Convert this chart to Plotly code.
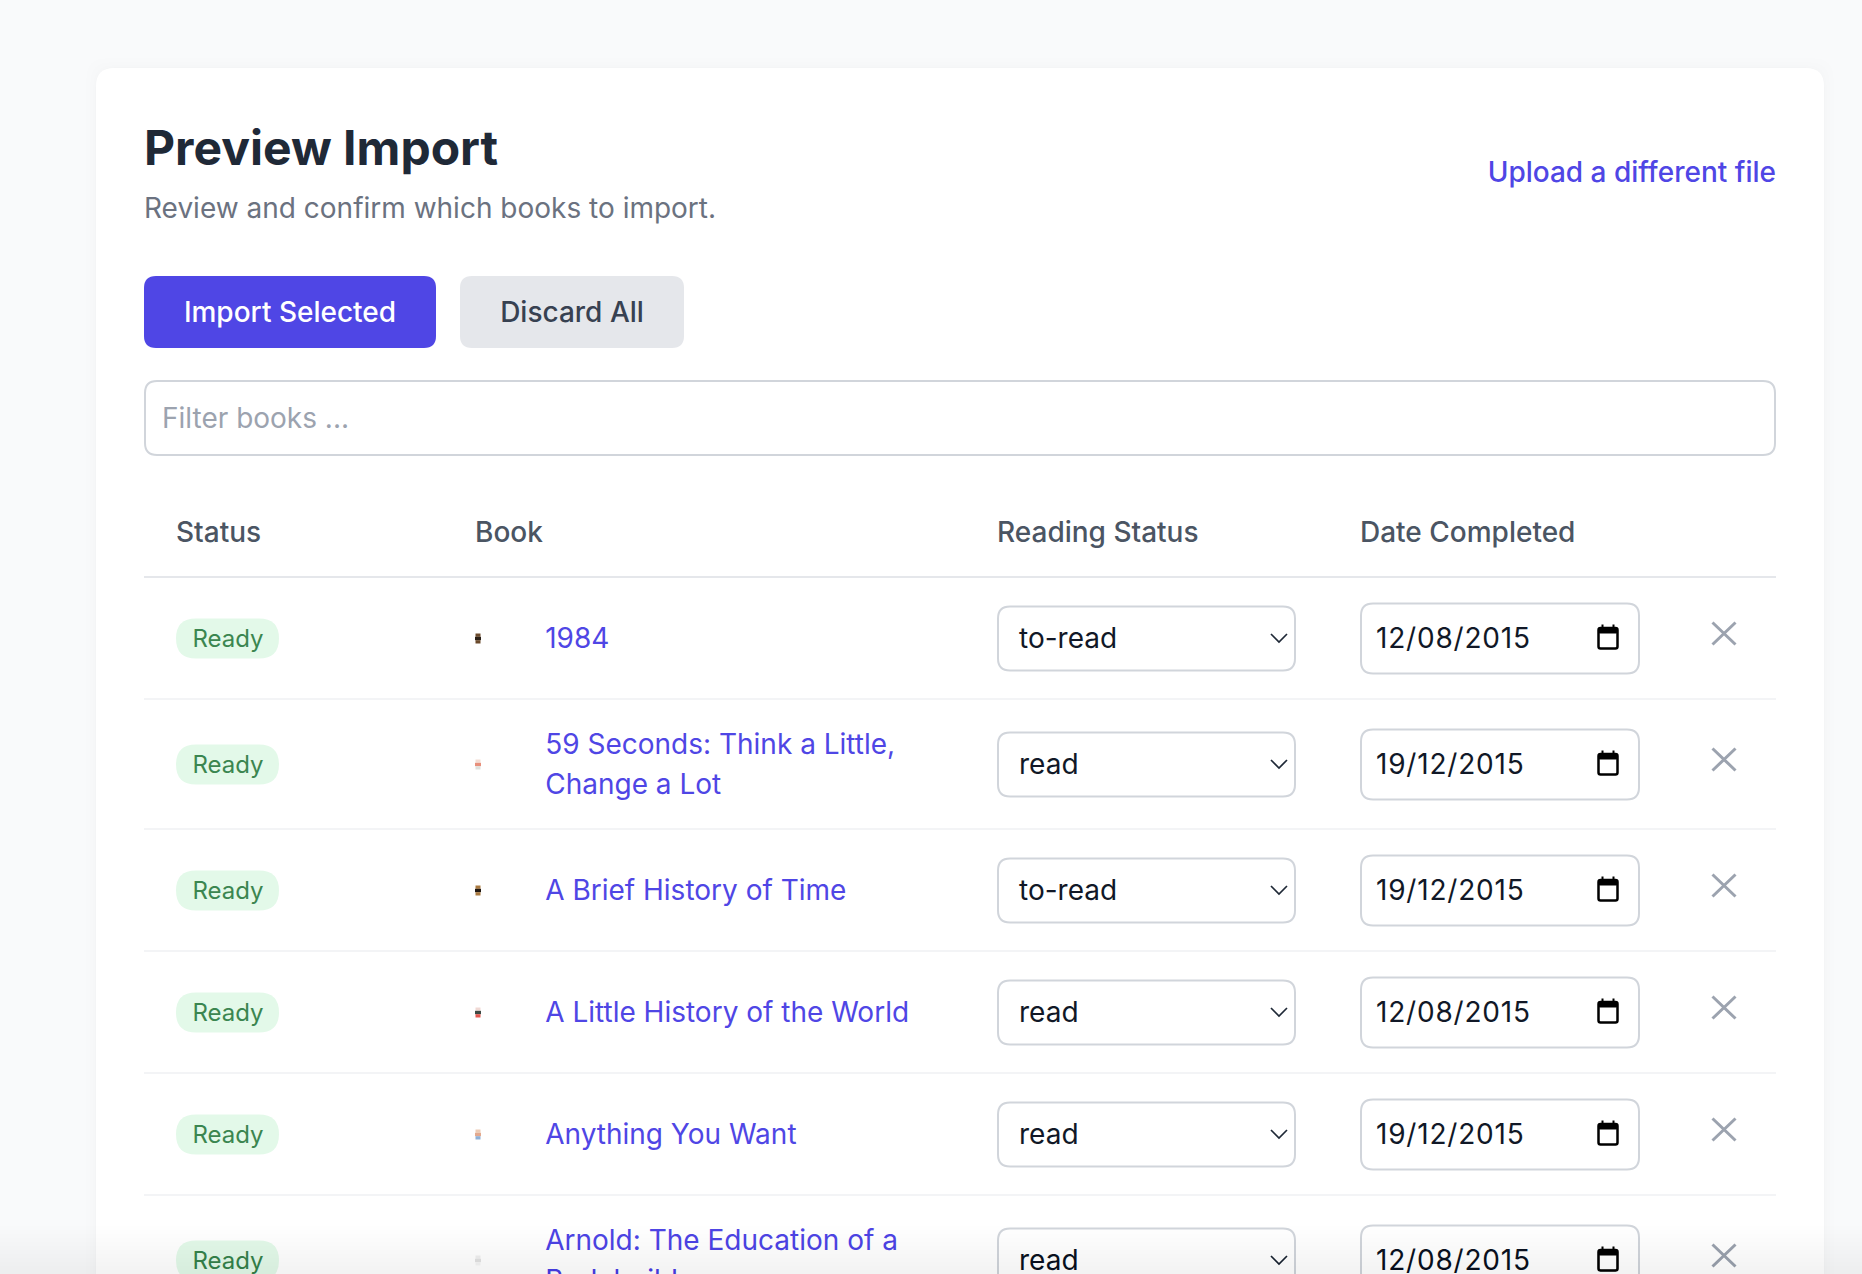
import plotly.graph_objects as go

# Content
page_title = "Preview Import"
page_subtitle = "Review and confirm which books to import."
upload_link = "Upload a different file"
button_labels = ["Import Selected", "Discard All"]
filter_placeholder = "Filter books ..."
header_labels = ["Status", "Book", "Reading Status", "Date Completed"]
book_titles = [
    "1984",
    "59 Seconds: Think a Little,<br>Change a Lot",
    "A Brief History of Time",
    "A Little History of the World",
    "Anything You Want",
    "Arnold: The Education of a<br>Bodybuilder",
]
import_status = ["Ready", "Ready", "Ready", "Ready", "Ready", "Ready"]
reading_status = ["to-read", "read", "to-read", "read", "read", "read"]
dates_completed = ["12/08/2015", "19/12/2015", "19/12/2015", "12/08/2015", "19/12/2015", "12/08/2015"]
cover_stripes = [
    ["#6b4a2c", "#2a1f16", "#6b4a2c"],
    ["#f3dcd3", "#e8907c", "#dfe0dc"],
    ["#a9793f", "#1e1712", "#a9793f"],
    ["#f0d9d4", "#3c4a44", "#e3574f"],
    ["#eccbb4", "#e3a98e", "#8fb0d6"],
    ["#efefef", "#e2e2e2", "#f4f4f4"],
]

WIDTH, HEIGHT = 1862, 1274
FONT = "Inter"
INDIGO = "#4f46e5"
BORDER = "#d1d5db"

# Column edges, in page pixels
LEFT, RIGHT = 144, 1776
COL_STATUS, COL_COVER, COL_TITLE, COL_READING, COL_DATE = 176, 475, 545.2, 997, 1360
ROWS_TOP = 577
ONE_LINE_ROW, TWO_LINE_ROW = 122, 130
TEXT_DROP = 2.5  # Inter sits a little high when centred by plotly


def rounded(x0, y0, x1, y1, r):
    """SVG path of a rounded rectangle"""
    return (
        f"M{x0 + r},{y0} L{x1 - r},{y0} Q{x1},{y0} {x1},{y0 + r} "
        f"L{x1},{y1 - r} Q{x1},{y1} {x1 - r},{y1} "
        f"L{x0 + r},{y1} Q{x0},{y1} {x0},{y1 - r} "
        f"L{x0},{y0 + r} Q{x0},{y0} {x0 + r},{y0} Z"
    )


fig = go.Figure()
shapes = []


def add_box(x0, y0, x1, y1, r, fill, line=None, width=2):
    shapes.append(dict(
        type="path", path=rounded(x0, y0, x1, y1, r), xref="x", yref="y",
        fillcolor=fill, line=dict(color=line or "rgba(0,0,0,0)", width=width if line else 0),
        layer="below",
    ))


def add_stroke(path, color, width):
    shapes.append(dict(
        type="path", path=path, xref="x", yref="y",
        line=dict(color=color, width=width), layer="below",
    ))


def add_text(xs, ys, labels, size, color, weight=400, position="middle right"):
    fig.add_trace(go.Scatter(
        x=xs, y=ys, text=labels, mode="text", textposition=position,
        textfont=dict(family=FONT, size=size, color=color, weight=weight),
        hoverinfo="skip", showlegend=False,
    ))


# Card with a soft shadow
for spread, alpha in [(10, 0.003), (6, 0.004), (3, 0.005), (1, 0.008)]:
    add_box(96 - spread, 68 - spread, 1824 + spread, 1400, 20, f"rgba(0,0,0,{alpha})")
add_box(96, 68, 1824, 1400, 18, "#ffffff")

# Heading block
add_text([144], [153], [page_title], 48, "#1f2937", 700)
add_text([144], [211], [page_subtitle], 28, "#6b7280")
add_text([1776], [175], [upload_link], 28, INDIGO, 500, "middle left")

# Buttons and filter
add_box(144, 276, 436, 348, 12, INDIGO)
add_box(460, 276, 684, 348, 12, "#e5e7eb")
add_text([290], [315], [button_labels[0]], 28, "#ffffff", 500, "middle center")
add_text([572], [315], [button_labels[1]], 28, "#374151", 500, "middle center")
add_box(145, 381, 1775, 455, 12, "#ffffff", BORDER, 2)
add_text([162], [420.5], [filter_placeholder], 28, "#9ca3af")

# Table header
add_text([COL_STATUS, COL_COVER, COL_READING, COL_DATE], [534.5] * 4, header_labels, 28, "#4b5563", 500)
shapes.append(dict(type="line", x0=LEFT, x1=RIGHT, y0=ROWS_TOP, y1=ROWS_TOP, xref="x", yref="y",
                   line=dict(color="#e5e7eb", width=2), layer="below"))

# Table rows
row_top = ROWS_TOP
centers = []
title_x, title_y, title_text = [], [], []
for title, stripes in zip(book_titles, cover_stripes):
    lines = title.split("<br>")
    row_h = TWO_LINE_ROW if len(lines) > 1 else ONE_LINE_ROW
    cy = row_top + row_h / 2 + 0.5
    centers.append(cy)
    row_top += row_h
    if row_top < HEIGHT:
        shapes.append(dict(type="line", x0=LEFT, x1=RIGHT, y0=row_top, y1=row_top, xref="x", yref="y",
                           line=dict(color="#f3f4f6", width=2), layer="below"))

    # Badge
    add_box(176, cy - 20, 279, cy + 20, 20, "#e3f9e9")

    # Tiny cover image, ends drawn a touch narrower so it reads as an oval
    for i, colour in enumerate(stripes):
        inset = 0 if i == 1 else 0.5
        shapes.append(dict(type="rect", x0=COL_COVER + inset, x1=COL_COVER + 6 - inset,
                           y0=cy - 5 + i * 10 / 3, y1=cy - 5 + (i + 1) * 10 / 3, xref="x", yref="y",
                           fillcolor=colour, line=dict(width=0), layer="below"))

    # Title lines
    for n, line in enumerate(lines):
        title_x.append(COL_TITLE)
        title_y.append(cy + TEXT_DROP + (n - (len(lines) - 1) / 2) * 40)
        title_text.append(line)

    # Select box and chevron
    add_box(998, cy - 32, 1295, cy + 32, 12, "#ffffff", BORDER, 2)
    add_stroke(f"M1271,{cy - 4.5} L1279,{cy + 3.5} L1287,{cy - 4.5}", "#1f2937", 1.7)

    # Date input and calendar icon
    add_box(1361, cy - 35, 1639, cy + 35, 12, "#ffffff", BORDER, 2)
    add_box(1598.5, cy - 10.5, 1617.5, cy + 10, 2, "#ffffff", "#000000", 2.5)
    add_box(1598, cy - 11, 1618, cy - 5, 2, "#000000")
    add_stroke(f"M1602.5,{cy - 14} L1602.5,{cy - 9} M1613.5,{cy - 14} L1613.5,{cy - 9}", "#000000", 2)

    # Remove icon
    add_stroke(f"M1712.5,{cy - 16} L1735.5,{cy + 6} M1735.5,{cy - 16} L1712.5,{cy + 6}", "#9ca3af", 3)

add_text([192.5] * 6, [c + 2.8 for c in centers], import_status, 24, "#3b8650")
add_text(title_x, title_y, title_text, 28, INDIGO)
add_text([1019] * 6, [c + TEXT_DROP for c in centers], reading_status, 28, "#111827")
add_text([1376] * 6, [c + TEXT_DROP for c in centers], dates_completed, 28, "#111827")

# Shadow along the bottom edge of the screenshot
for step in range(12):
    shapes.append(dict(type="rect", x0=0, x1=WIDTH, y0=1226 + step * 4, y1=HEIGHT, xref="x", yref="y",
                       fillcolor="rgba(0,0,0,0.005)", line=dict(width=0), layer="above"))

fig.update_layout(
    width=WIDTH, height=HEIGHT, margin=dict(l=0, r=0, t=0, b=0),
    paper_bgcolor="#f9fafb", plot_bgcolor="#f9fafb",
    xaxis=dict(range=[0, WIDTH], visible=False, fixedrange=True),
    yaxis=dict(range=[HEIGHT, 0], visible=False, fixedrange=True),
    shapes=shapes, showlegend=False,
)

# The date fields in the reference are spaced out a bit more than plain text
date_spacing = (
    "document.querySelectorAll('.textpoint text').forEach(function (t) {"
    "if (/^\\d\\d\\/\\d\\d\\/\\d{4}$/.test(t.textContent)) t.style.letterSpacing = '0.8px';});"
)

fig.write_html(
    "out.html",
    config=dict(displayModeBar=False),
    post_script="document.body.style.margin='0';document.body.style.overflow='hidden';" + date_spacing,
)
